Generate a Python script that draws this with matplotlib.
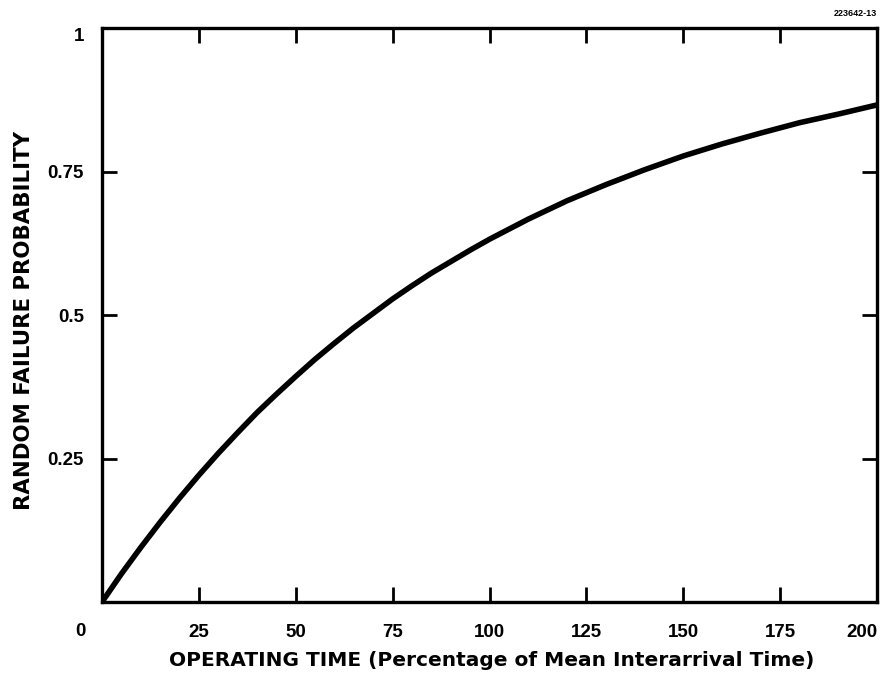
import matplotlib
matplotlib.use("Agg")
import matplotlib.pyplot as plt

# Values
time_pct = [0, 5, 10, 15, 20, 25, 30, 35, 40, 45, 50, 55, 60, 65, 70, 75, 80,
            85, 90, 95, 100, 110, 120, 130, 140, 150, 160, 170, 180, 190, 200]
failure_prob = [0.0, 0.049, 0.095, 0.139, 0.181, 0.221, 0.259, 0.295, 0.330,
                0.362, 0.393, 0.423, 0.451, 0.478, 0.503, 0.528, 0.551, 0.573,
                0.593, 0.613, 0.632, 0.667, 0.699, 0.727, 0.753, 0.777, 0.798,
                0.817, 0.835, 0.850, 0.866]

x_ticks = [25, 50, 75, 100, 125, 150, 175, 200]
x_tick_labels = ["25", "50", "75", "100", "125", "150", "175", "200"]
y_ticks = [0.25, 0.5, 0.75, 1.0]
y_tick_labels = ["0.25", "0.5", "0.75", "1"]

plt.rcParams['font.family'] = ['Liberation Sans', 'DejaVu Sans']
plt.rcParams['font.weight'] = 'bold'

fig = plt.figure(figsize=(8.82, 6.73), dpi=100)
ax = fig.add_axes([102/882, 1-602/673, (877-102)/882, (602-28)/673])

ax.plot(time_pct, failure_prob, color='black', lw=4.0,
        solid_capstyle='butt', solid_joinstyle='round')
ax.set_xlim(0, 200)
ax.set_ylim(0, 1)

ax.set_xticks(x_ticks)
ax.set_xticklabels(x_tick_labels)
ax.set_yticks(y_ticks)
ax.set_yticklabels(y_tick_labels)

ax.tick_params(axis='both', direction='in', length=11, width=2,
               top=True, right=True, labelsize=13.5, color='black')
ax.tick_params(axis='x', pad=16)
ax.tick_params(axis='y', pad=13)
for lab in ax.get_xticklabels() + ax.get_yticklabels():
    lab.set_fontweight('bold')
ax.get_xticklabels()[-1].set_ha('right')
ax.get_xticklabels()[-1].set_x(200)
ax.get_yticklabels()[-1].set_va('top')

for sp in ax.spines.values():
    sp.set_linewidth(2.4)

fig.text(80/882, 1-631/673, "0", ha='center', va='center',
         fontsize=13.5, fontweight='bold')

fig.text(492/882, 1-660/673,
         "OPERATING TIME (Percentage of Mean Interarrival Time)",
         ha='center', va='center', fontsize=14.5, fontweight='bold',
         family='DejaVu Sans')
fig.text(24/882, 1-320/673, "RANDOM FAILURE PROBABILITY", rotation=90,
         ha='center', va='center', fontsize=15.3, fontweight='bold',
         family='DejaVu Sans')

fig.text(877/882, 1-13/673, "223642-13", ha='right', va='center',
         fontsize=6.5, fontweight='bold')

fig.savefig("out.png", dpi=100)
